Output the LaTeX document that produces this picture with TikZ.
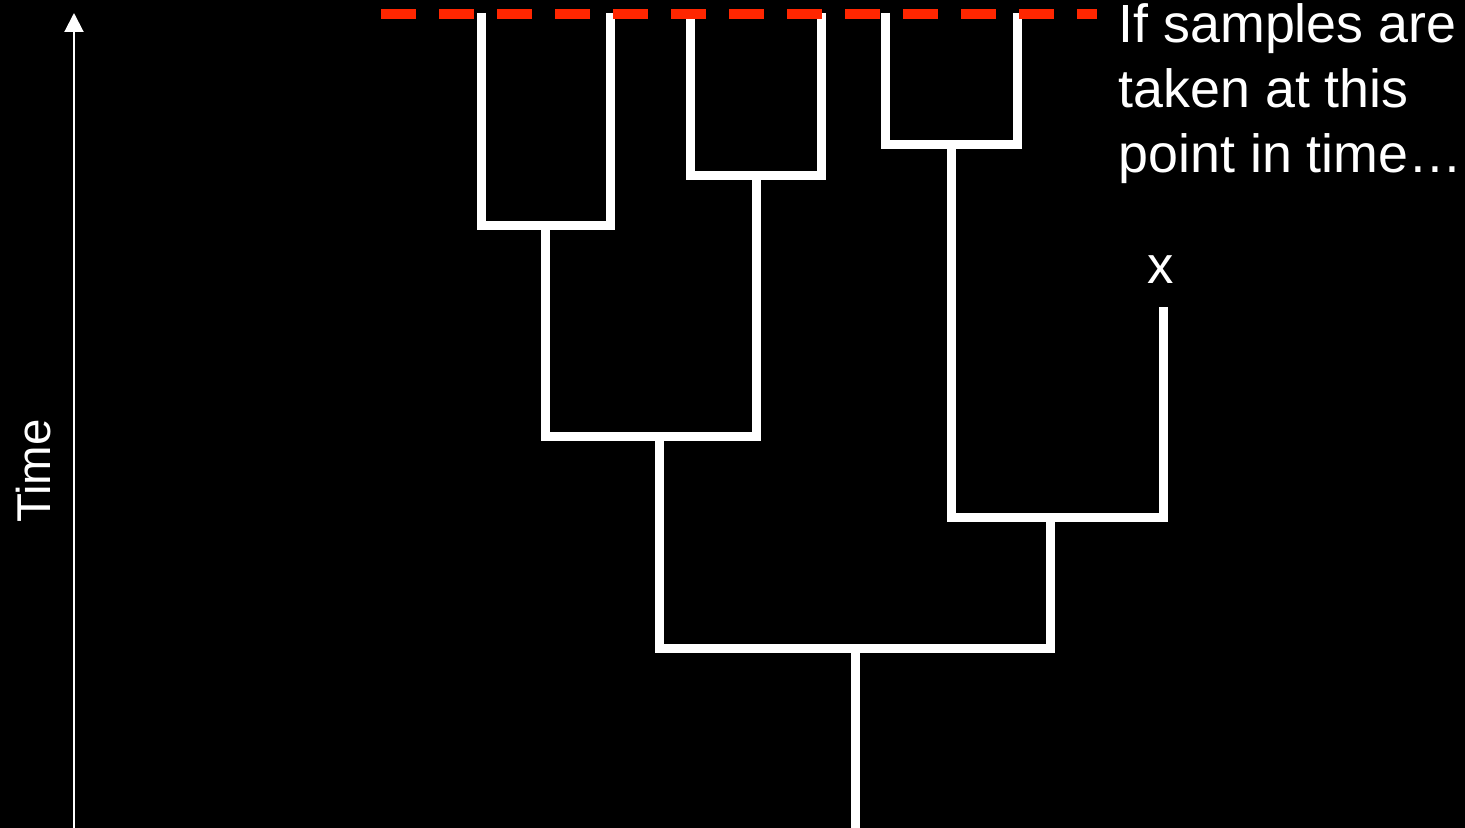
\documentclass[tikz,border=0pt]{standalone}
\usepackage{fontspec}
\setmainfont{Liberation Sans}
\usetikzlibrary{arrows.meta}
\definecolor{samplered}{RGB}{255,38,0}

\begin{document}
\begin{tikzpicture}[
    branch/.style={white, line width=0.09cm},
    label/.style={text=white, font=\fontsize{13.5}{18.5}\selectfont, inner sep=0pt}
  ]
    % Background
    \fill[black] (0,0) rectangle (14.65,8.28);
    \useasboundingbox (0,0) rectangle (14.65,8.28);
    % Time axis
    \coordinate (t0) at (0.74,0);
    \coordinate (t1) at (0.74,8.15);
    \draw[white, line width=0.02cm, -{Triangle[width=1.9mm,length=1.9mm]}] (t0) -- (t1);
    \node[label, rotate=90] (time) at (0.34,3.57) {Time};
    % Tree nodes
    \foreach \n/\x in {l1/4.81, l2/6.10, l3/6.90, l4/8.21, l5/8.85, l6/10.17} {
        \coordinate (\n) at (\x,8.15);
    }
    \coordinate (n1) at (5.45,6.02);
    \coordinate (n2) at (7.56,6.52);
    \coordinate (n3) at (9.51,6.83);
    \coordinate (n4) at (6.59,3.91);
    \coordinate (n5) at (10.50,3.10);
    \coordinate (n6) at (8.55,1.79);
    \coordinate (xtip) at (11.63,5.21);
    \coordinate (base) at (8.55,0);
    % Branches
    \draw[branch] (l1) |- (n1) -| (l2);
    \draw[branch] (l3) |- (n2) -| (l4);
    \draw[branch] (l5) |- (n3) -| (l6);
    \draw[branch] (n1) |- (n4) -| (n2);
    \draw[branch] (n3) |- (n5) -| (xtip);
    \draw[branch] (n4) |- (n6) -| (n5);
    \draw[branch] (n6) -- (base);
    \node[label, font=\fontsize{15}{18.5}\selectfont] (xlab) at (11.61,5.58) {x};
    % Sampling time
    \coordinate (s0) at (3.81,8.14);
    \coordinate (s1) at (10.97,8.14);
    \draw[samplered, line width=0.1cm, dash pattern=on 0.35cm off 0.23cm] (s0) -- (s1);
    \node[label, anchor=north west, align=left, font=\fontsize{15.3}{18.5}\selectfont] (note) at (11.18,8.25) {If samples are\\taken at this\\point in time\ldots};
\end{tikzpicture}
\end{document}
